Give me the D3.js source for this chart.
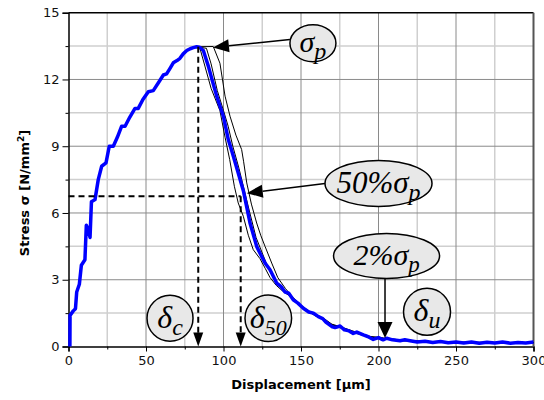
<!DOCTYPE html>
<html lang="en">
<head>
<meta charset="utf-8">
<title>Stress vs displacement</title>
<script src="https://d3js.org/d3.v7.min.js"></script>
<style>
  body { margin: 0; background: #fff; }
  svg text { font-family: "DejaVu Sans", sans-serif; }
  .math { font-family: "Liberation Serif", "Times New Roman", serif; font-style: italic; }
</style>
</head>
<body>
<script>
// blue (mean) curve: displacement [um] and stress [N/mm2]
const blueDisp = [0.9, 1.0, 3.1, 4.5, 5.3, 7.0, 8.3, 10.6, 11.5, 12.5, 13.9, 14.8, 17.1, 19.2, 21.4, 24.2, 26.3, 28.9, 31.5, 34.3, 36.5, 39.5, 42.9, 45, 48, 51.5, 54.7, 58, 61.2, 63.3, 65.5, 67.6, 70, 71.9, 74, 76.3, 78.5, 80.5, 82.7, 84.5, 87, 90.2, 93, 95.6, 99.9, 103.1, 105.3, 109.5, 112.8, 117.1, 121.4, 123.5, 126.8, 130, 134.3, 137, 139.7, 142, 145, 148, 151.5, 155, 158, 161.2, 164, 166, 169.8, 172, 175.2, 178, 181, 183.7, 186, 190.2, 193, 196.6, 200, 203, 205.3, 209, 213.9, 217, 220.3, 225, 230, 235, 240, 245, 250, 255, 260, 265, 270, 275, 280, 285, 290, 295, 300];
const blueStress = [0, 1.4, 1.6, 1.7, 2.45, 2.8, 3.65, 3.9, 5.45, 5.3, 4.9, 6.5, 6.6, 7.5, 8.1, 8.25, 9.0, 9.0, 9.4, 9.9, 9.9, 10.3, 10.7, 10.7, 11.1, 11.45, 11.5, 11.85, 12.2, 12.25, 12.5, 12.75, 12.85, 12.95, 13.15, 13.3, 13.38, 13.43, 13.47, 13.45, 13.3, 12.6, 11.9, 11.25, 10.35, 9.3, 8.8, 7.8, 7.0, 5.55, 4.5, 4.2, 3.75, 3.45, 2.85, 2.7, 2.45, 2.4, 2.1, 1.95, 1.72, 1.55, 1.5, 1.34, 1.25, 1.1, 0.9, 0.85, 0.92, 0.75, 0.7, 0.59, 0.65, 0.52, 0.45, 0.32, 0.4, 0.3, 0.37, 0.3, 0.26, 0.3, 0.26, 0.2, 0.24, 0.18, 0.22, 0.17, 0.2, 0.16, 0.2, 0.15, 0.19, 0.16, 0.2, 0.15, 0.18, 0.16, 0.2];

// individual test curves (thin black), from the peak onwards
const testADisp = [82.7, 84.8, 88, 92, 97.7, 101, 104, 107, 109.5, 112.8, 116, 119.2, 123.5, 127, 130, 134, 138, 142, 146, 150, 155, 160, 165, 170, 175, 180, 185, 190, 195, 200, 205, 210, 215, 220, 230, 240, 250, 260, 270, 280, 290, 300];
const testAStress = [13.47, 13.4, 12.6, 11.6, 10.6, 9.4, 8.4, 7.2, 6.45, 5.85, 5.0, 4.35, 3.95, 3.5, 3.1, 2.75, 2.5, 2.3, 2.05, 1.8, 1.55, 1.35, 1.2, 0.95, 0.85, 0.72, 0.6, 0.5, 0.42, 0.38, 0.32, 0.3, 0.25, 0.24, 0.2, 0.2, 0.17, 0.18, 0.15, 0.17, 0.14, 0.16];
const testBDisp = [82.7, 93.4, 97.7, 101, 104.2, 108, 111.7, 113, 115, 118, 121.4, 124, 126.8, 131.1, 135, 140, 145, 150, 155, 160, 165, 170, 175, 180, 185, 190, 195, 200, 205, 210, 215, 220, 230, 240, 250, 260, 270, 280, 290, 300];
const testBStress = [13.47, 13.48, 12.73, 11.25, 10.35, 9.5, 8.85, 8.3, 7.35, 6.4, 5.55, 5.0, 4.5, 3.75, 3.1, 2.6, 2.2, 1.85, 1.6, 1.4, 1.25, 1.0, 0.9, 0.78, 0.66, 0.55, 0.45, 0.42, 0.36, 0.33, 0.28, 0.27, 0.22, 0.23, 0.19, 0.2, 0.17, 0.19, 0.16, 0.18];
const testCDisp = [82.7, 89, 92, 96, 100, 103, 106, 110, 113.5, 117, 121, 125, 129, 133, 137, 141, 145, 150, 155, 160, 165, 170, 175, 180, 185, 190, 195, 200, 205, 210, 220, 230, 240, 250, 260, 270, 280, 290, 300];
const testCStress = [13.47, 13.4, 12.7, 11.5, 10.6, 9.9, 9.0, 8.0, 7.0, 6.0, 4.9, 4.2, 3.5, 3.0, 2.7, 2.4, 2.15, 1.8, 1.6, 1.38, 1.2, 0.98, 0.88, 0.76, 0.62, 0.54, 0.4, 0.4, 0.34, 0.3, 0.28, 0.22, 0.21, 0.2, 0.18, 0.19, 0.17, 0.16, 0.18];

// characteristic points
const peakDisp = 83.7, peakStress = 13.47;
const halfDisp = 111.1, halfStress = 6.75;
const xTicks = [0, 50, 100, 150, 200, 250, 300];
const xMinor = [25, 75, 125, 175, 225, 275];
const yTicks = [0, 3, 6, 9, 12, 15];
const yMinor = [1.5, 4.5, 7.5, 10.5, 13.5];

const w = 544, h = 400;
const margin = {left: 68.5, right: 10.5, top: 12.7, bottom: 53.5};

const svg = d3.select("body").append("svg")
  .attr("width", w).attr("height", h);

const x = d3.scaleLinear().domain([0, 300]).range([margin.left, w - margin.right]);
const y = d3.scaleLinear().domain([0, 15]).range([h - margin.bottom, margin.top]);

// grid
svg.append("g").selectAll("line").data(xMinor).enter().append("line")
  .attr("x1", d => x(d)).attr("x2", d => x(d))
  .attr("y1", y(0)).attr("y2", y(15))
  .attr("stroke", "#cfcfcf").attr("stroke-width", 1.5);
svg.append("g").selectAll("line").data(yMinor).enter().append("line")
  .attr("x1", x(0)).attr("x2", x(300))
  .attr("y1", d => y(d)).attr("y2", d => y(d))
  .attr("stroke", "#cfcfcf").attr("stroke-width", 1.5);
svg.append("g").selectAll("line").data(xTicks.slice(1, -1)).enter().append("line")
  .attr("x1", d => x(d)).attr("x2", d => x(d))
  .attr("y1", y(0)).attr("y2", y(15))
  .attr("stroke", "#8a8a8a").attr("stroke-width", 1);
svg.append("g").selectAll("line").data(yTicks.slice(1, -1)).enter().append("line")
  .attr("x1", x(0)).attr("x2", x(300))
  .attr("y1", d => y(d)).attr("y2", d => y(d))
  .attr("stroke", "#8a8a8a").attr("stroke-width", 1);

// axes
const xAxis = svg.append("g")
  .attr("transform", `translate(0,${y(0)})`)
  .call(d3.axisBottom(x).tickValues(xTicks).tickSize(5).tickPadding(4));
const yAxis = svg.append("g")
  .attr("transform", `translate(${x(0)},0)`)
  .call(d3.axisLeft(y).tickValues(yTicks).tickSize(6).tickPadding(3));
[xAxis, yAxis].forEach(g => {
  g.select(".domain").attr("stroke", "#000").attr("stroke-width", 1.5);
  g.selectAll("text").style("font-family", "DejaVu Sans").style("font-size", "13px").attr("fill", "#111");
});
svg.append("g").attr("transform", `translate(0,${y(0)})`)
  .call(d3.axisBottom(x).tickValues(xMinor).tickSize(3).tickFormat(""))
  .select(".domain").remove();
svg.append("g").attr("transform", `translate(${x(0)},0)`)
  .call(d3.axisLeft(y).tickValues(yMinor).tickSize(3).tickFormat(""))
  .select(".domain").remove();

// top and right frame
svg.append("line").attr("x1", x(0)).attr("x2", x(300)).attr("y1", y(15)).attr("y2", y(15))
  .attr("stroke", "#000").attr("stroke-width", 1.5);
svg.append("line").attr("x1", x(300)).attr("x2", x(300)).attr("y1", y(15)).attr("y2", y(0))
  .attr("stroke", "#555").attr("stroke-width", 2);

// axis titles
svg.append("text")
  .attr("x", (x(0) + x(300)) / 2).attr("y", 389)
  .attr("text-anchor", "middle")
  .style("font-size", "13px").style("font-weight", "bold")
  .text("Displacement [μm]");
const yl = svg.append("text")
  .attr("transform", `translate(29,193) rotate(-90)`)
  .attr("text-anchor", "middle")
  .style("font-size", "13px").style("font-weight", "bold");
yl.append("tspan").text("Stress σ [N/mm");
yl.append("tspan").attr("dy", -5).style("font-size", "9px").text("2");
yl.append("tspan").attr("dy", 5).text("]");

// curves
const line = d3.line().x(d => x(d[0])).y(d => y(d[1]));
const zip = (a, b) => a.map((v, i) => [v, b[i]]);
[[testADisp, testAStress], [testBDisp, testBStress], [testCDisp, testCStress]].forEach(s => {
  svg.append("path").datum(zip(s[0], s[1]))
    .attr("d", line).attr("fill", "none")
    .attr("stroke", "#000").attr("stroke-width", 1);
});
svg.append("path").datum(zip(blueDisp, blueStress))
  .attr("d", line).attr("fill", "none")
  .attr("stroke", "#0000ff").attr("stroke-width", 3.5)
  .attr("stroke-linejoin", "round");

// dashed guides
const dash = (x1, y1, x2, y2) => svg.append("line")
  .attr("x1", x(x1)).attr("y1", y(y1)).attr("x2", x(x2)).attr("y2", y(y2))
  .attr("stroke", "#000").attr("stroke-width", 2).attr("stroke-dasharray", "6,4");
dash(peakDisp, peakStress, peakDisp, 0.6);
dash(halfDisp, halfStress, halfDisp, 0.6);
dash(0, halfStress, halfDisp, halfStress);

// arrow with filled head; tip at (x2,y2)
function arrow(x1, y1, x2, y2, len, half, width) {
  const a = Math.atan2(y2 - y1, x2 - x1);
  const bx = x2 - len * Math.cos(a), by = y2 - len * Math.sin(a);
  if (width) svg.append("line").attr("x1", x1).attr("y1", y1).attr("x2", bx).attr("y2", by)
    .attr("stroke", "#000").attr("stroke-width", width);
  const px = -Math.sin(a) * half, py = Math.cos(a) * half;
  svg.append("path")
    .attr("d", `M${x2},${y2}L${bx + px},${by + py}L${bx - px},${by - py}Z`)
    .attr("fill", "#000");
}
arrow(x(peakDisp), y(1), x(peakDisp), y(0), 14, 5, 0);
arrow(x(halfDisp), y(1), x(halfDisp), y(0), 14, 5, 0);

// bubbles: center in data units, radii in px
function bubble(cx, cy, rx, ry) {
  svg.append("ellipse").attr("cx", x(cx)).attr("cy", y(cy)).attr("rx", rx).attr("ry", ry)
    .attr("fill", "#e8e8e8").attr("stroke", "#000").attr("stroke-width", 1.5);
}
function mathLabel(cx, cy, main, sub, size, subSize, dx) {
  const t = svg.append("text").attr("class", "math")
    .attr("x", x(cx) + (dx || 0)).attr("y", y(cy) + size * 0.3)
    .attr("text-anchor", "middle").style("font-size", size + "px");
  t.append("tspan").text(main);
  t.append("tspan").attr("dy", size * 0.22).style("font-size", subSize + "px").text(sub);
}

arrow(x(157.7) - 23, y(13.8), x(93.2), y(13.44), 16, 6.5, 1.5);
bubble(157.7, 13.63, 23, 18.5);
mathLabel(157.7, 13.63, "σ", "p", 30, 24, 0);

arrow(x(200) - 53.5, y(7.33), x(115), y(6.89), 16, 6.5, 1.5);
bubble(200, 7.33, 53.5, 23);
mathLabel(200, 7.33, "50%σ", "p", 31, 24, 0);

arrow(x(204.2), y(4.07) + 22.5, x(204.2), y(0.38), 16, 7.5, 1.5);
bubble(205.2, 4.07, 53, 22.5);
mathLabel(205.2, 4.07, "2%σ", "p", 30, 23, 0);

bubble(65.5, 1.27, 23, 23);
mathLabel(65.5, 1.27, "δ", "c", 32, 24, 0);
bubble(128.9, 1.27, 23.3, 23.3);
mathLabel(128.9, 1.27, "δ", "50", 32, 22, 0);
bubble(231.3, 1.56, 23.5, 23.5);
mathLabel(231.3, 1.56, "δ", "u", 32, 24, 0);
</script>
</body>
</html>
